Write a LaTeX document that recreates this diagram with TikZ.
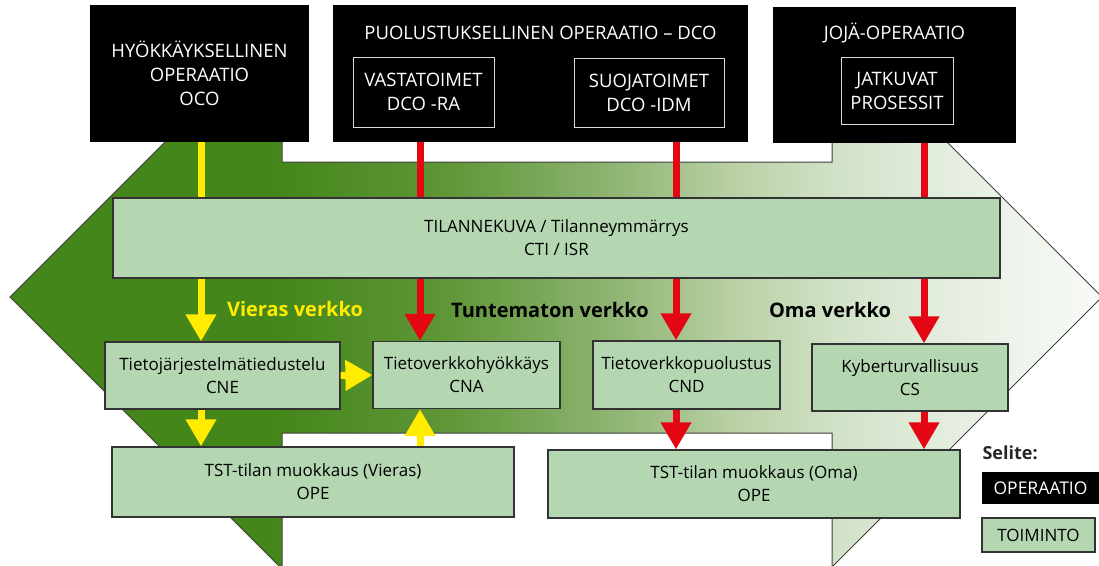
\documentclass[tikz,border=0pt]{standalone}
\usepackage{fontspec}
\setmainfont{Open Sans}
\usetikzlibrary{arrows.meta}
\definecolor{netdark}{RGB}{68,134,26}
\definecolor{netdarker}{RGB}{95,150,55}
\definecolor{netmid}{RGB}{145,182,118}
\definecolor{netpale}{RGB}{185,208,165}
\definecolor{netlight}{RGB}{210,226,200}
\definecolor{netfaint}{RGB}{235,242,232}
\definecolor{netwhite}{RGB}{248,250,247}
\definecolor{actgreen}{RGB}{180,215,178}
\definecolor{opred}{RGB}{227,6,19}
\definecolor{opyellow}{RGB}{255,236,0}
\pgfdeclarehorizontalshading{netshade}{100bp}{color(0bp)=(netdark); color(37bp)=(netdark);
  color(45bp)=(netdarker); color(53bp)=(netmid); color(58bp)=(netpale); color(63bp)=(netlight);
  color(70bp)=(netfaint); color(75bp)=(netwhite); color(100bp)=(netwhite)}
\newcommand{\opfont}{\fontsize{18.5}{24}\selectfont}
\newcommand{\actfont}{\fontsize{17}{23}\selectfont}
\begin{document}
\begin{tikzpicture}[x=1pt,y=-1pt,
  opbox/.style={fill=black, text=white, inner sep=0pt, font=\opfont, align=center},
  subop/.style={draw=black!15, line width=1pt, text=white, inner sep=0pt, font=\opfont, align=center},
  actbox/.style={draw=black!80, fill=actgreen, line width=1.2pt, inner sep=0pt, font=\actfont, align=center},
  yline/.style={draw=opyellow, line width=7pt},
  rline/.style={draw=opred, line width=7pt},
  yarrow/.style={yline, -{Triangle[width=29pt,length=27pt]}},
  rarrow/.style={rline, -{Triangle[width=29pt,length=27pt]}},
  netlabel/.style={font=\fontsize{20}{24}\selectfont\bfseries}]
  \useasboundingbox (0,0) rectangle (1099,565);
  % background: double arrow from own network to foreign network
  \shade[shading=netshade, draw=black!75, line width=1pt]
    (10,297) -- (282,25) -- (282,162) -- (832,162) -- (832,27) -- (1102,297)
    -- (832,567) -- (832,433) -- (282,433) -- (282,569) -- cycle;
  % operations
  \node[opbox, minimum width=219pt, minimum height=137pt] (oco) at (199.5,73.5)
    {HYÖKKÄYKSELLINEN\\OPERAATIO\\OCO};
  \node[opbox, minimum width=415pt, minimum height=137pt] (dco) at (540.5,73.5) {};
  \node[text=white, font=\opfont] (dcotitle) at (540.5,33) {PUOLUSTUKSELLINEN OPERAATIO -- DCO};
  \node[subop, minimum width=141pt, minimum height=70pt] (ra) at (423.5,92) {VASTATOIMET\\DCO -RA};
  \node[subop, minimum width=150pt, minimum height=69pt] (idm) at (649,92.5) {SUOJATOIMET\\DCO -IDM};
  \node[opbox, minimum width=243pt, minimum height=136pt] (joja) at (894.5,75) {};
  \node[text=white, font=\opfont] (jojatitle) at (894.5,33) {JOJÄ-OPERAATIO};
  \node[subop, minimum width=112pt, minimum height=67pt] (jatk) at (897,90.5) {JATKUVAT\\PROSESSIT};
  % activities
  \node[actbox, minimum width=887pt, minimum height=80pt] (cti) at (556.5,238)
    {TILANNEKUVA / Tilanneymmärrys\\CTI / ISR};
  \node[actbox, minimum width=235pt, minimum height=67pt] (cne) at (222.5,375.5)
    {Tietojärjestelmätiedustelu\\CNE};
  \node[actbox, minimum width=187pt, minimum height=67pt] (cna) at (466.5,375)
    {Tietoverkkohyökkäys\\CNA};
  \node[actbox, minimum width=187pt, minimum height=68pt] (cnd) at (686.5,375)
    {Tietoverkkopuolustus\\CND};
  \node[actbox, minimum width=196pt, minimum height=67pt] (cs) at (910,377.5)
    {Kyberturvallisuus\\CS};
  \node[actbox, minimum width=402pt, minimum height=70pt] (opev) at (313,482)
    {TST-tilan muokkaus (Vieras)\\OPE};
  \node[actbox, minimum width=412pt, minimum height=68pt] (opeo) at (754,484)
    {TST-tilan muokkaus (Oma)\\OPE};
  % networks
  \node[netlabel, text=opyellow] (vieras) at (295,309) {Vieras verkko};
  \node[netlabel] (tuntematon) at (550,310) {Tuntematon verkko};
  \node[netlabel] (oma) at (830,310) {Oma verkko};
  % flows
  \coordinate (lx) at (201,0); \coordinate (rx1) at (420,0);
  \coordinate (rx2) at (676,0); \coordinate (rx3) at (924,0);
  \draw[yline] (oco.south -| lx) -- (cti.north -| lx);
  \draw[yarrow] (cti.south -| lx) -- (cne.north -| lx);
  \draw[yarrow] (cne.east) -- (cna.west);
  \draw[yarrow] (cne.south -| lx) -- (opev.north -| lx);
  \draw[yarrow] (opev.north -| rx1) -- (cna.south -| rx1);
  \draw[rline] (dco.south -| rx1) -- (cti.north -| rx1);
  \draw[rarrow] (cti.south -| rx1) -- (cna.north -| rx1);
  \draw[rline] (dco.south -| rx2) -- (cti.north -| rx2);
  \draw[rarrow] (cti.south -| rx2) -- (cnd.north -| rx2);
  \draw[rarrow] (cnd.south -| rx2) -- (opeo.north -| rx2);
  \draw[rline] (joja.south -| rx3) -- (cti.north -| rx3);
  \draw[rarrow] (cti.south -| rx3) -- (cs.north -| rx3);
  \draw[rarrow] (cs.south -| rx3) -- (opeo.north -| rx3);
  % legend
  \node[anchor=west, font=\fontsize{18}{22}\selectfont\bfseries, text=black!85] (selite) at (979,453) {Selite:};
  \node[opbox, font=\fontsize{17.5}{22}\selectfont, minimum width=117pt, minimum height=32pt] (legop) at (1040.5,488) {OPERAATIO};
  \node[actbox, minimum width=113pt, minimum height=34pt] (legact) at (1038.5,535) {TOIMINTO};
\end{tikzpicture}
\end{document}
